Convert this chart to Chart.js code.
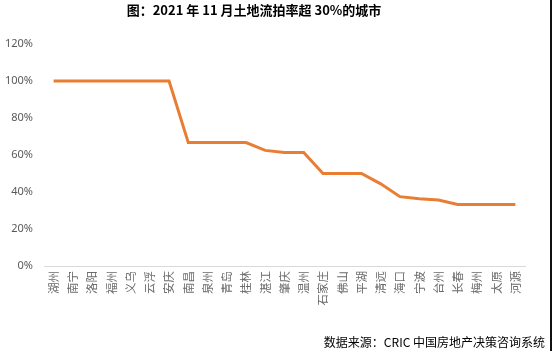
<!DOCTYPE html>
<html>
<head>
<meta charset="utf-8">
<script src="https://cdn.jsdelivr.net/npm/chart.js@4/dist/chart.umd.min.js"></script>
<style>
  html, body { margin: 0; padding: 0; background: #fff; }
  #wrap { position: relative; width: 552px; height: 351px; overflow: hidden; }
  #edge { position: absolute; right: 0; top: 0; width: 2px; height: 351px; background: #111; }
</style>
</head>
<body>
<div id="wrap">
  <canvas id="rateChart" width="552" height="351"></canvas>
  <div id="edge"></div>
</div>
<script>
// 城市与流拍率（%）
const cities = ['湖州', '南宁', '洛阳', '福州', '义乌', '云浮', '安庆', '南昌', '泉州', '青岛', '桂林', '湛江', '肇庆',
    '温州', '石家庄', '佛山', '平湖', '清远', '海口', '宁波', '台州', '长春', '梅州', '太原', '河源'];
const rates = [100, 100, 100, 100, 100, 100, 100, 66.7, 66.7, 66.7, 66.7, 62.5, 61.3,
    61.3, 50, 50, 50, 44.4, 37.5, 36.4, 35.7, 33.3, 33.3, 33.3, 33.3];
const yTicks = [0, 20, 40, 60, 80, 100, 120];

const titleText = '图：2021 年 11 月土地流拍率超 30%的城市';
const sourceText = '数据来源：CRIC 中国房地产决策咨询系统';

// 标题和数据来源直接画在画布上
const textPlugin = {
    id: 'textPlugin',
    afterDraw(chart) {
        const ctx = chart.ctx;
        ctx.save();
        ctx.fillStyle = '#000';
        ctx.textBaseline = 'middle';
        ctx.textAlign = 'center';
        ctx.font = 'bold 13px "Noto Sans CJK SC", sans-serif';
        ctx.fillText(titleText, 254, 10);
        ctx.textAlign = 'right';
        ctx.font = '12px "Noto Sans CJK SC", sans-serif';
        ctx.fillText(sourceText, 545, 342);
        ctx.restore();
    }
};

new Chart(document.getElementById('rateChart').getContext('2d'), {
    type: 'line',
    data: {
        labels: cities,
        datasets: [{
            data: rates,
            borderColor: '#E97D33',
            borderWidth: 3,
            pointRadius: 0,
            tension: 0,
            fill: false
        }]
    },
    options: {
        responsive: false,
        animation: false,
        layout: { padding: { left: 0, right: 27, top: 44, bottom: 0 } },
        plugins: {
            legend: { display: false },
            title: { display: false },
            tooltip: { enabled: false }
        },
        scales: {
            x: {
                offset: true,
                grid: { display: false, drawTicks: false },
                border: { display: true, color: '#d9d9d9', width: 1 },
                ticks: {
                    color: '#6b6b6b',
                    font: { family: '"Noto Sans CJK SC", sans-serif', size: 11.5 },
                    minRotation: 90,
                    maxRotation: 90,
                    autoSkip: false,
                    padding: 5
                },
                afterFit: scale => { scale.height = 85; }
            },
            y: {
                min: 0,
                max: 120,
                grid: { display: false, drawTicks: false },
                border: { display: false },
                afterBuildTicks: scale => { scale.ticks = yTicks.map(v => ({ value: v })); },
                ticks: {
                    color: '#595959',
                    font: { family: '"Noto Sans", sans-serif', size: 11 },
                    padding: 11,
                    callback: value => value + '%'
                },
                afterFit: scale => { scale.width = 44; }
            }
        }
    },
    plugins: [textPlugin]
});
</script>
</body>
</html>
